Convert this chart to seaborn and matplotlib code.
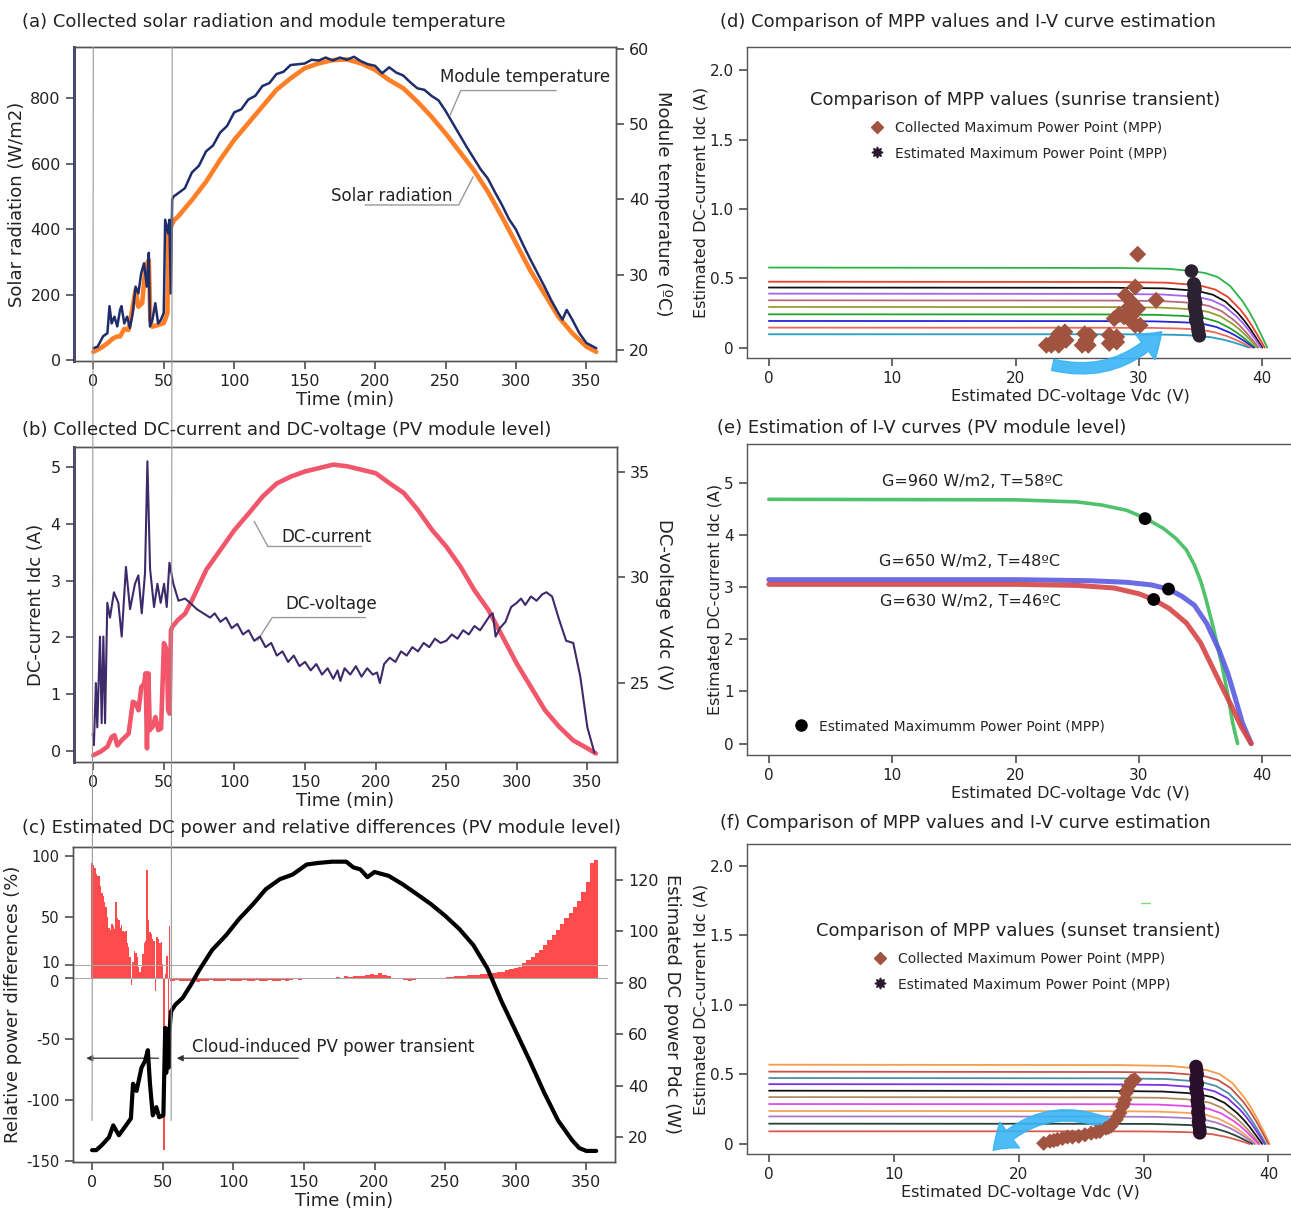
import matplotlib
matplotlib.use("Agg")
import matplotlib.pyplot as plt
from matplotlib.patches import FancyArrowPatch, ConnectionPatch
from matplotlib.lines import Line2D
from matplotlib.transforms import ScaledTranslation
import seaborn as sns

# ---------------- (a) solar radiation and module temperature ----------------
rad_time = [0, 5, 10, 14, 17, 19, 22, 25, 27.6, 30, 32, 34.7, 37, 39.4, 40.5, 41.8, 46, 50, 52.6, 53.5,
            54.3, 55, 57.4, 60, 70, 80, 90, 100, 110, 120, 130, 140, 150, 160, 170, 180, 190, 200, 210, 220,
            230, 240, 250, 260, 270, 280, 290, 300, 310, 320, 330, 340, 350, 357]
rad_wm2 = [25, 36, 51, 66, 72, 72, 95, 92, 153, 214, 163, 174, 285, 306, 122, 102, 107, 113, 143, 387,
           230, 408, 428, 438, 489, 545, 612, 673, 724, 775, 826, 861, 892, 907, 917, 919, 907, 887, 856, 831,
           790, 744, 693, 637, 581, 515, 438, 357, 275, 204, 133, 82, 41, 25]
temp_time = [0, 3, 7, 10, 11.5, 13, 15, 17, 19, 20, 22, 24, 26, 28, 30, 32, 34, 36, 38, 39.4,
             40.2, 42, 44, 46, 48, 50, 51, 53, 54, 55, 56, 57, 60, 65, 70, 75, 80, 85, 90, 95,
             100, 105, 110, 115, 120, 125, 130, 135, 140, 145, 150, 155, 160, 165, 170, 175, 180, 185, 190, 195,
             200, 205, 210, 215, 220, 225, 230, 235, 240, 245, 250, 255, 260, 265, 270, 275, 280, 285, 290, 295,
             300, 305, 310, 315, 320, 325, 330, 333, 336, 340, 345, 350, 357]
temp_c = [20.2, 20.4, 21.8, 22.2, 25.8, 23.5, 24.4, 23.1, 25.3, 25.8, 23.5, 24.4, 22.9, 24.9, 28.4, 27.5, 30.2, 31.5, 28.4, 32.9,
          23.1, 24.0, 26.2, 23.5, 24.0, 24.9, 37.3, 35.5, 37.3, 27.5, 40.0, 40.4, 40.8, 41.5, 43.6, 44.5, 46.4, 47.2, 48.9, 49.8,
          51.6, 52.0, 53.3, 53.8, 55.1, 55.5, 56.7, 57.0, 57.9, 58.0, 58.1, 58.6, 58.5, 58.9, 58.5, 58.9, 58.6, 59.0, 58.4, 58.0,
          57.8, 56.8, 57.6, 56.9, 56.5, 55.6, 54.8, 54.6, 53.8, 53.2, 51.8, 50.2, 48.6, 47.0, 45.5, 44.0, 42.8, 41.0, 39.3, 37.4,
          36.0, 34.0, 32.1, 30.3, 28.5, 26.6, 24.9, 24.0, 25.3, 24.0, 22.2, 20.9, 20.2]

# ---------------- (b) DC current and DC voltage ----------------
cur_time = [0, 5, 10, 13, 15, 17, 20, 25, 28, 30, 32, 34, 36, 37, 38, 39, 40, 42, 44, 46,
            48, 50, 52, 53, 54, 55, 56, 60, 65, 70, 80, 90, 100, 110, 120, 130, 140, 150, 160, 170,
            180, 190, 200, 210, 220, 230, 240, 250, 260, 270, 280, 290, 300, 310, 320, 330, 340, 350, 356]
cur_a = [-0.07, -0.01, 0.08, 0.25, 0.28, 0.1, 0.19, 0.31, 0.87, 0.84, 0.72, 1.13, 1.19, 1.37, 0.05, 1.37, 0.37, 0.43, 0.6, 0.37,
         0.4, 1.9, 1.78, 0.72, 0.66, 2.13, 2.19, 2.31, 2.42, 2.66, 3.19, 3.54, 3.89, 4.18, 4.48, 4.71, 4.83, 4.92, 4.98, 5.04,
         5.01, 4.95, 4.89, 4.71, 4.54, 4.24, 3.89, 3.6, 3.25, 2.83, 2.48, 2.01, 1.54, 1.13, 0.72, 0.43, 0.19, 0.05, -0.04]
volt_time = [-0.5, 0.4, 1.8, 2.8, 4.7, 5.9, 7.1, 8.3, 9.9, 11.8, 14.6, 17.7, 20.1, 23.1, 26, 29.5, 31.9, 34.3, 36.6, 38.3,
             40.2, 43, 45.4, 47.7, 50.1, 52, 53.9, 56.7, 60.3, 65, 68.5, 73.3, 78, 82.7, 86, 90, 94, 98, 102, 106,
             110, 114, 118, 122, 126, 130, 134, 138, 142, 146, 150, 154, 158, 162, 166, 170, 173, 175, 178, 182,
             186, 190, 194, 198, 201, 203, 206, 210, 214, 218, 222, 226, 230, 234, 238, 242, 246, 250, 254, 258,
             262, 266, 270, 274, 278, 281, 283, 285, 288, 292, 296, 300, 303, 306, 310, 314, 318, 321, 325, 330,
             335, 340, 345, 350, 355]
volt_v = [22.6, 22.06, 25.0, 22.9, 27.2, 23.1, 27.2, 23.1, 28.8, 28.1, 29.3, 28.8, 27.2, 30.5, 28.5, 29.7, 30.1, 28.3, 30.2, 35.5,
          30.4, 28.6, 29.7, 28.8, 29.7, 28.6, 30.7, 29.7, 28.9, 29.0, 28.8, 28.5, 28.3, 28.1, 28.3, 27.9, 28.1, 27.6, 27.8, 27.3,
          27.5, 27.0, 27.2, 26.7, 26.9, 26.3, 26.5, 26.0, 26.3, 25.8, 26.0, 25.6, 25.9, 25.4, 25.7, 25.2, 25.6, 25.1, 25.7, 25.4,
          25.8, 25.3, 25.7, 25.4, 25.5, 25.0, 25.9, 26.2, 26.0, 26.5, 26.3, 26.7, 26.5, 26.9, 26.7, 27.1, 26.9, 27.0, 27.3, 27.1,
          27.5, 27.3, 27.7, 27.5, 27.9, 28.2, 28.3, 27.2, 27.6, 27.9, 28.6, 28.8, 29.0, 28.7, 29.1, 28.9, 29.2, 29.3, 29.1, 28.0,
          27.0, 26.9, 25.3, 22.9, 21.7]

# ---------------- (c) DC power and relative differences ----------------
pow_time = [0, 3, 7, 12, 15, 19, 24, 27.5, 29, 31.5, 35, 37.5, 39.5, 41, 43, 45.5, 47.5, 50.5, 51.8, 52.5,
            53.5, 54.2, 54.8, 55.9, 59, 64, 70, 76, 85, 95, 104, 114, 123, 133, 142, 152, 160, 170, 180, 185,
            190, 195, 200, 210, 220, 230, 240, 250, 260, 270, 280, 290, 300, 310, 320, 330, 340, 345, 350, 357]
pow_w = [15, 15, 17, 20, 24.6, 20.8, 24.6, 27.3, 40.8, 38, 47, 49.6, 53.8, 40.8, 28.5, 31.7, 27.8, 28.5, 62.5, 45,
         62, 47, 61, 68.8, 71.5, 74, 79.2, 85, 92.7, 98.5, 104.7, 110.5, 116.3, 120.2, 122, 125.9, 126.5, 127, 127, 124.8,
         124, 121, 123, 121.5, 118.2, 114.4, 110.5, 106, 100.9, 94.6, 85.5, 72.7, 61.2, 49.6, 37.5, 26.5, 18.8, 15.8, 14.7, 14.7]
# one value per minute, t = 0..56
diff_sunrise = [94, 92, 90, 85, 83.5, 83, 75, 69, 67, 62, 58, 50, 41, 39, 44, 42, 40, 62, 49, 47,
                41, 43, 38, 37, 38, 28, 25, 17, -6, 13, 22, 20, 17, 9, 4.5, 9, 19.5, 28, 30, 88,
                47, 37, 36, 32, 30, -11, 33, 32, 28, 29, 11, -141, 3, 18, -40, 42, -3]
# one value every 3 minutes, t = 57..357
diff_day = [-3, -2, -3, -2.5, -3, -2, -3.5, -2.5, -3, -2, -3, -2.5, -3, -2, -3,
            -2.5, -3, -2, -3, -2.5, -2, -3, -2.5, -2, -2.5, -3, -2, -2.5, -2, -1.5, -2, -1.5,
            -1, -1.5, -1, -0.5, -1, 0, -0.5, 0.5, 0, 1, 0.5, 1, 1.5, 1, 2, 3, 2,
            3.5, 2, 1, 0, -1, -1.5, -2, -2.5, -2, -1.5, -1, -1, -0.5, 0, -0.5, 0, 0.5,
            0.5, 1, 1, 1.5, 2, 2, 2.5, 3, 3, 3.5, 4, 4.5, 5, 6, 7, 8, 9,
            12, 14.5, 17, 20, 23, 27, 31, 35, 39, 44, 49, 53, 58, 63, 70, 78, 94, 96]
sunrise_min = list(range(0, 57))
day_min = list(range(57, 358, 3))

# ---------------- (d) sunrise I-V curves ----------------
rise_iv_v = [
    [0, 28.4, 32.4, 34.4, 35.4, 36.4, 37.4, 38.4, 38.9, 39.4, 39.9, 40.4],
    [0, 28.2, 32.2, 34.2, 35.2, 36.2, 37.2, 38.2, 38.7, 39.2, 39.7, 40.2],
    [0, 28.0, 32.0, 34.0, 35.0, 36.0, 37.0, 38.0, 38.5, 39.0, 39.5, 40.0],
    [0, 27.9, 31.9, 33.9, 34.9, 35.9, 36.9, 37.9, 38.4, 38.9, 39.4, 39.9],
    [0, 27.7, 31.7, 33.7, 34.7, 35.7, 36.7, 37.7, 38.2, 38.7, 39.2, 39.7],
    [0, 27.6, 31.6, 33.6, 34.6, 35.6, 36.6, 37.6, 38.1, 38.6, 39.1, 39.6],
    [0, 27.4, 31.4, 33.4, 34.4, 35.4, 36.4, 37.4, 37.9, 38.4, 38.9, 39.4],
    [0, 27.3, 31.3, 33.3, 34.3, 35.3, 36.3, 37.3, 37.8, 38.3, 38.8, 39.3],
    [0, 27.1, 31.1, 33.1, 34.1, 35.1, 36.1, 37.1, 37.6, 38.1, 38.6, 39.1],
    [0, 26.9, 30.9, 32.9, 33.9, 34.9, 35.9, 36.9, 37.4, 37.9, 38.4, 38.9],
]
rise_iv_i = [
    [.577, .574, .568, .551, .537, .508, .444, .335, .265, .185, .095, 0],
    [.475, .473, .468, .454, .442, .418, .366, .276, .219, .152, .078, 0],
    [.433, .431, .427, .414, .403, .381, .333, .251, .199, .139, .071, 0],
    [.389, .387, .383, .371, .362, .342, .300, .226, .179, .124, .064, 0],
    [.341, .339, .336, .326, .317, .300, .263, .198, .157, .109, .056, 0],
    [.293, .292, .289, .280, .272, .258, .226, .170, .135, .094, .048, 0],
    [.240, .239, .236, .229, .223, .211, .185, .139, .110, .077, .040, 0],
    [.192, .191, .189, .183, .179, .169, .148, .111, .088, .061, .032, 0],
    [.144, .143, .142, .138, .134, .127, .111, .084, .066, .046, .024, 0],
    [.096, .096, .095, .092, .089, .084, .074, .056, .044, .031, .016, 0],
]
rise_iv_colors = ["#2db34a", "#e8402a", "#111111", "#a463f2", "#b86a7c",
                  "#9a9a3a", "#22a22a", "#2626d9", "#e86a5a", "#2a9cc0"]
rise_col_v = [22.5, 22.9, 23.1, 23.5, 23.5, 23.9, 24.0, 24.1, 25.4, 25.6, 25.7, 25.9, 26.0, 27.6, 27.6, 28.0,
              28.2, 28.2, 28.4, 28.8, 28.9, 29.2, 29.3, 29.4, 29.4, 29.7, 29.7, 29.9, 29.9, 30.1, 31.4]
rise_col_i = [0.017, 0.017, 0.05, 0.017, 0.1, 0.065, 0.113, 0.053, 0.017, 0.1, 0.053, 0.017, 0.089, 0.03, 0.09, 0.209,
              0.077, 0.04, 0.24, 0.221, 0.377, 0.293, 0.197, 0.329, 0.23, 0.437, 0.161, 0.673, 0.281, 0.161, 0.341]
rise_est_v = [34.26, 34.45, 34.5, 34.5, 34.55, 34.5, 34.45, 34.5, 34.55, 34.6, 34.5,
              34.55, 34.6, 34.65, 34.7, 34.6, 34.7, 34.75, 34.8, 34.8, 34.85, 34.9]
rise_est_i = [0.552, 0.46, 0.45, 0.43, 0.42, 0.40, 0.38, 0.36, 0.34, 0.32, 0.30,
              0.28, 0.26, 0.24, 0.22, 0.20, 0.18, 0.16, 0.14, 0.12, 0.10, 0.085]

# ---------------- (e) I-V curves at three conditions ----------------
iv_e_labels = ["G=960 W/m2, T=58ºC", "G=650 W/m2, T=48ºC", "G=630 W/m2, T=46ºC"]
iv_e_label_v = [16.5, 16.3, 16.3]
iv_e_label_i = [5.02, 3.49, 2.72]
iv_e_v = [
    [0, 20, 25, 27, 29, 30.5, 32, 33, 33.85, 34.5, 35, 35.4, 36, 36.7, 37.2, 37.6, 38.0],
    [0, 20, 26, 29, 31, 32.4, 33.5, 34.5, 35.5, 36.5, 37.2, 37.7, 38.4, 39.1],
    [0, 20, 25, 28, 30, 31.2, 32.5, 33.85, 35, 35.8, 36.6, 37.4, 38.3, 39.1],
]
iv_e_i = [
    [4.68, 4.67, 4.63, 4.57, 4.47, 4.32, 4.12, 3.93, 3.71, 3.42, 3.12, 2.80, 2.25, 1.54, 0.95, 0.40, 0],
    [3.14, 3.14, 3.12, 3.09, 3.04, 2.96, 2.82, 2.65, 2.3, 1.79, 1.35, 0.96, 0.39, 0],
    [3.05, 3.05, 3.03, 2.98, 2.87, 2.76, 2.58, 2.31, 1.93, 1.54, 1.15, 0.77, 0.32, 0],
]
iv_e_colors = ["#3dbb5c", "#5b5be0", "#d64545"]
mpp_e_v = [30.5, 32.4, 31.2]
mpp_e_i = [4.31, 2.96, 2.76]

# ---------------- (f) sunset I-V curves ----------------
set_iv_v = [
    [0, 28.1, 32.1, 34.1, 35.1, 36.1, 37.1, 38.1, 38.6, 39.1, 39.6, 40.1],
    [0, 28.0, 32.0, 34.0, 35.0, 36.0, 37.0, 38.0, 38.5, 39.0, 39.5, 40.0],
    [0, 27.8, 31.8, 33.8, 34.8, 35.8, 36.8, 37.8, 38.3, 38.8, 39.3, 39.8],
    [0, 27.7, 31.7, 33.7, 34.7, 35.7, 36.7, 37.7, 38.2, 38.7, 39.2, 39.7],
    [0, 27.5, 31.5, 33.5, 34.5, 35.5, 36.5, 37.5, 38.0, 38.5, 39.0, 39.5],
    [0, 27.3, 31.3, 33.3, 34.3, 35.3, 36.3, 37.3, 37.8, 38.3, 38.8, 39.3],
    [0, 27.2, 31.2, 33.2, 34.2, 35.2, 36.2, 37.2, 37.7, 38.2, 38.7, 39.2],
    [0, 27.0, 31.0, 33.0, 34.0, 35.0, 36.0, 37.0, 37.5, 38.0, 38.5, 39.0],
    [0, 26.9, 30.9, 32.9, 33.9, 34.9, 35.9, 36.9, 37.4, 37.9, 38.4, 38.9],
    [0, 26.7, 30.7, 32.7, 33.7, 34.7, 35.7, 36.7, 37.2, 37.7, 38.2, 38.7],
    [0, 26.5, 30.5, 32.5, 33.5, 34.5, 35.5, 36.5, 37.0, 37.5, 38.0, 38.5],
]
set_iv_i = [
    [.570, .567, .561, .544, .530, .502, .439, .331, .262, .182, .094, 0],
    [.520, .517, .512, .497, .484, .458, .400, .302, .239, .166, .086, 0],
    [.474, .472, .467, .453, .441, .417, .365, .275, .218, .152, .078, 0],
    [.430, .428, .424, .411, .400, .378, .331, .249, .198, .138, .071, 0],
    [.383, .381, .377, .366, .356, .337, .295, .222, .176, .123, .063, 0],
    [.337, .335, .332, .322, .313, .297, .259, .195, .155, .108, .056, 0],
    [.287, .286, .283, .274, .267, .253, .221, .166, .132, .092, .047, 0],
    [.237, .236, .233, .226, .220, .209, .182, .137, .109, .076, .039, 0],
    [.198, .197, .195, .189, .184, .174, .152, .115, .091, .063, .033, 0],
    [.146, .145, .144, .139, .136, .128, .112, .085, .067, .047, .024, 0],
    [.091, .091, .090, .087, .085, .080, .070, .053, .042, .029, .015, 0],
]
set_iv_colors = ["#f39c4a", "#c9504a", "#4c8fa3", "#7a33e6", "#151515", "#b38b5d",
                 "#e24ae8", "#f5a35a", "#a879c9", "#24443a", "#d85a50"]
set_col_v = [22.0, 22.5, 22.8, 23.1, 23.5, 23.9, 24.3, 24.8, 25.3, 25.8, 26.2, 26.5, 27.0, 27.2, 27.4,
             27.8, 27.95, 28.1, 28.3, 28.4, 28.5, 28.6, 28.7, 28.8, 29.0, 29.15, 29.3]
set_col_i = [0.005, 0.02, 0.025, 0.032, 0.04, 0.05, 0.05, 0.055, 0.066, 0.078, 0.085, 0.09, 0.114, 0.12, 0.13,
             0.175, 0.2, 0.223, 0.27, 0.29, 0.318, 0.366, 0.39, 0.414, 0.45, 0.455, 0.462]
set_est_v = [34.2, 34.25, 34.3, 34.2, 34.25, 34.3, 34.2, 34.25, 34.3, 34.35,
             34.3, 34.35, 34.4, 34.35, 34.4, 34.45, 34.4, 34.45, 34.5, 34.5]
set_est_i = [0.557, 0.53, 0.5, 0.47, 0.45, 0.43, 0.4, 0.38, 0.36, 0.33,
             0.31, 0.28, 0.26, 0.23, 0.21, 0.18, 0.16, 0.13, 0.1, 0.08]

time_ticks = [0, 50, 100, 150, 200, 250, 300, 350]

# ---------------------------------------------------------------------------
sns.set_theme(style="ticks")
plt.rcParams["font.family"] = ["DejaVu Sans"]
plt.rcParams["axes.unicode_minus"] = False
plt.rcParams["axes.edgecolor"] = "#555555"
plt.rcParams["axes.linewidth"] = 1.0
plt.rcParams["xtick.color"] = "#555555"
plt.rcParams["ytick.color"] = "#555555"
plt.rcParams["xtick.labelcolor"] = "#222222"
plt.rcParams["ytick.labelcolor"] = "#222222"
plt.rcParams["xtick.labelsize"] = 11.5
plt.rcParams["ytick.labelsize"] = 11.5
plt.rcParams["axes.labelsize"] = 13
plt.rcParams["axes.labelcolor"] = "#222222"

W, H = 1291, 1213
fig = plt.figure(figsize=(W / 100, H / 100), dpi=100)


def px_axes(l, t, r, b):
    return fig.add_axes([l / W, 1 - b / H, (r - l) / W, (b - t) / H])


def line(ax, x, y, **kw):
    sns.lineplot(x=x, y=y, ax=ax, estimator=None, sort=False, **kw)


def title(x, y, s):
    fig.text(x / W, 1 - y / H, s, fontsize=13, va="center", ha="left", color="#222222")


# ---- (a)
ax_a = px_axes(74, 47, 616, 361)
line(ax_a, rad_time, rad_wm2, color="#ff7f27", lw=3.3)
ax_a.set_xlim(-13.7, 371)
ax_a.set_ylim(-3, 957)
ax_a.set_yticks([0, 200, 400, 600, 800])
ax_a.set_xticks(time_ticks)
ax_a.set_xlabel("Time (min)", labelpad=1)
ax_a.set_ylabel("Solar radiation (W/m2)", labelpad=3)
ax_a.spines["left"].set_color("#1f2d6b")
ax_a.spines["left"].set_linewidth(2)
ax_a2 = ax_a.twinx()
line(ax_a2, temp_time, temp_c, color="#1f2d6b", lw=1.8)
ax_a2.set_ylim(18.5, 60.3)
ax_a2.set_yticks([20, 30, 40, 50, 60])
ax_a2.set_ylabel("Module temperature (ºC)", rotation=270, labelpad=16)
ax_a2.plot([253.3, 260.8, 328.5], [51.25, 54.5, 54.5], color="#999999", lw=1)
ax_a2.text(306.5, 56.3, "Module temperature", ha="center", va="center", fontsize=12, color="#222222")
ax_a.plot([269.6, 259.3, 192.9], [560, 474, 474], color="#999999", lw=1)
ax_a.text(212, 501, "Solar radiation", ha="center", va="center", fontsize=12, color="#222222")
title(22, 22, "(a) Collected solar radiation and module temperature")

# ---- (b)
ax_b = px_axes(74, 447, 617, 762)
line(ax_b, cur_time, cur_a, color="#f2566a", lw=3.3)
ax_b.set_xlim(-13.7, 371)
ax_b.set_ylim(-0.19, 5.35)
ax_b.set_yticks([0, 1, 2, 3, 4, 5])
ax_b.set_xticks(time_ticks)
ax_b.set_xlabel("Time (min)", labelpad=1)
ax_b.set_ylabel("DC-current Idc (A)")
ax_b.spines["left"].set_color("#3d2a6b")
ax_b.spines["left"].set_linewidth(2)
ax_b2 = ax_b.twinx()
line(ax_b2, volt_time, volt_v, color="#3d2a6b", lw=1.5)
ax_b2.set_ylim(21.26, 36.18)
ax_b2.set_yticks([25, 30, 35])
ax_b2.set_ylabel("DC-voltage Vdc (V)", rotation=270, labelpad=16)
ax_b.plot([114, 123.7, 190.1], [4.04, 3.6, 3.6], color="#999999", lw=1)
ax_b.text(165.5, 3.77, "DC-current", ha="center", va="center", fontsize=12, color="#222222")
ax_b.plot([116.4, 126.7, 192.9], [1.95, 2.35, 2.35], color="#999999", lw=1)
ax_b.text(168.7, 2.59, "DC-voltage", ha="center", va="center", fontsize=12, color="#222222")
title(22, 430, "(b) Collected DC-current and DC-voltage (PV module level)")

# ---- (c)
ax_c = px_axes(73, 847, 615, 1162)
ax_c.bar(sunrise_min, diff_sunrise, width=1.0, color="#ff2b2b", alpha=0.85, lw=0)
ax_c.bar(day_min, diff_day, width=3.0, color="#ff2b2b", alpha=0.85, lw=0)
ax_c.axhline(10, xmax=0.985, color="#aaaaaa", lw=0.8)
ax_c.axhline(0, xmax=0.985, color="#aaaaaa", lw=0.8)
ax_c.set_xlim(-13.5, 370.3)
ax_c.set_ylim(-151, 107)
ax_c.set_yticks([-150, -100, -50, 0, 10, 50, 100], labels=["-150", "-100", "-50", "0", "10", "50", "100"])
ax_c.tick_params(axis="y", labelsize=10.5)
# nudge the two crowded labels apart
ylabs = ax_c.get_yticklabels()
ylabs[3].set_transform(ylabs[3].get_transform() + ScaledTranslation(0, -2.2 / 72, fig.dpi_scale_trans))
ylabs[4].set_transform(ylabs[4].get_transform() + ScaledTranslation(0, 2.2 / 72, fig.dpi_scale_trans))
ax_c.set_xticks(time_ticks)
ax_c.set_xlabel("Time (min)", labelpad=1)
ax_c.set_ylabel("Relative power differences (%)", labelpad=3)
ax_c2 = ax_c.twinx()
line(ax_c2, pow_time, pow_w, color="black", lw=3.0)
ax_c2.set_ylim(10.4, 132.7)
ax_c2.set_yticks([20, 40, 60, 80, 100, 120])
ax_c2.set_ylabel("Estimated DC power Pdc (W)", rotation=270, labelpad=16)
arr = dict(arrowstyle="-|>", color="#333333", lw=0.9, mutation_scale=9)
ax_c.annotate("", xy=(-6, -66), xytext=(49, -66), arrowprops=arr)
ax_c.annotate("", xy=(58, -66), xytext=(148, -66), arrowprops=arr)
ax_c.text(170.5, -57, "Cloud-induced PV power transient", ha="center", va="center",
          fontsize=12, color="#222222")
title(22, 828, "(c) Estimated DC power and relative differences (PV module level)")

# vertical guide lines through (a), (b), (c)
for t in (0, 56):
    con = ConnectionPatch(xyA=(t, 957), coordsA=ax_a.transData, xyB=(t, -117), coordsB=ax_c.transData,
                          color="#999999", lw=0.8)
    fig.add_artist(con)


def iv_axes(t, b, r, xmax):
    ax = px_axes(747, t, r, b)
    ax.set_xticks([0, 10, 20, 30, 40])
    ax.set_xlim(-1.77, xmax)
    ax.tick_params(labelsize=11)
    ax.set_xlabel("Estimated DC-voltage Vdc (V)", fontsize=11.5, labelpad=2)
    ax.set_ylabel("Estimated DC-current Idc (A)", fontsize=11.5, labelpad=1)
    return ax


def mpp_legend(ax, ttl, x_mid, y_top):
    handles = [Line2D([], [], ls="none", marker="D", ms=6.5, color="#a0533f", label="Collected Maximum Power Point (MPP)"),
               Line2D([], [], ls="none", marker=(8, 1, 0), ms=8, color="#2b1a2e", label="Estimated Maximum Power Point (MPP)")]
    leg = ax.legend(handles=handles, title=ttl, loc="upper center", bbox_to_anchor=(x_mid, y_top),
                    frameon=False, fontsize=10, title_fontsize=13, handletextpad=0.3, labelspacing=0.85)
    leg.get_title().set_color("#222222")


# ---- (d)
ax_d = iv_axes(47, 358, 1393, 50.6)
for v, i, c in zip(rise_iv_v, rise_iv_i, rise_iv_colors):
    line(ax_d, v, i, color=c, lw=1.3)
sns.scatterplot(x=rise_col_v, y=rise_col_i, ax=ax_d, marker="D", s=75, color="#a0533f", edgecolor="none", zorder=5)
sns.scatterplot(x=rise_est_v, y=rise_est_i, ax=ax_d, marker="o", s=95, color="#2b2130", edgecolor="none", zorder=6)
ax_d.set_ylim(-0.075, 2.167)
ax_d.set_yticks([0, 0.5, 1.0, 1.5, 2.0], labels=["0", "0.5", "1.0", "1.5", "2.0"])
ax_d.add_patch(FancyArrowPatch((22.8, -0.12), (32.0, 0.13), connectionstyle="arc3,rad=0.3",
                               arrowstyle="simple,head_width=1.3,head_length=0.9,tail_width=0.45",
                               mutation_scale=18, color="#3ab4f5", alpha=0.9, clip_on=False, zorder=4))
mpp_legend(ax_d, "Comparison of MPP values (sunrise transient)", 0.415, 0.9)
title(720, 22, "(d) Comparison of MPP values and I-V curve estimation")

# ---- (e)
ax_e = iv_axes(444, 755, 1393, 50.6)
lws = [2.6, 3.6, 3.6]
for v, i, c, w in zip(iv_e_v, iv_e_i, iv_e_colors, lws):
    line(ax_e, v, i, color=c, lw=w, alpha=0.9)
sns.scatterplot(x=mpp_e_v, y=mpp_e_i, ax=ax_e, marker="o", s=85, color="black", edgecolor="none", zorder=5)
ax_e.set_ylim(-0.22, 5.74)
ax_e.set_yticks([0, 1, 2, 3, 4, 5])
for lab, x, y in zip(iv_e_labels, iv_e_label_v, iv_e_label_i):
    ax_e.text(x, y, lab, ha="center", va="center", fontsize=11.5, color="#222222")
ax_e.legend(handles=[Line2D([], [], ls="none", marker="o", ms=8, color="black",
                            label="Estimated Maximumm Power Point (MPP)")],
            loc="lower left", bbox_to_anchor=(0.042, 0.03), frameon=False, fontsize=10, handletextpad=0.3)
title(717, 428, "(e) Estimation of I-V curves (PV module level)")

# ---- (f)
ax_f = iv_axes(844, 1154, 1293, 41.97)
for v, i, c in zip(set_iv_v, set_iv_i, set_iv_colors):
    line(ax_f, v, i, color=c, lw=1.3)
sns.scatterplot(x=set_col_v, y=set_col_i, ax=ax_f, marker="D", s=60, color="#a0533f", edgecolor="none", zorder=5)
sns.scatterplot(x=set_est_v, y=set_est_i, ax=ax_f, marker="o", s=95, color="#2a0f2a", edgecolor="none", zorder=6)
ax_f.plot([29.8, 30.5], [1.73, 1.73], color="#7be07b", lw=1)
ax_f.set_ylim(-0.072, 2.156)
ax_f.set_yticks([0, 0.5, 1.0, 1.5, 2.0], labels=["0", "0.5", "1.0", "1.5", "2.0"])
ax_f.add_patch(FancyArrowPatch((27.3, 0.14), (17.8, -0.06), connectionstyle="arc3,rad=0.35",
                               arrowstyle="simple,head_width=1.3,head_length=0.9,tail_width=0.45",
                               mutation_scale=18, color="#3ab4f5", alpha=0.9, clip_on=False, zorder=4))
mpp_legend(ax_f, "Comparison of MPP values (sunset transient)", 0.496, 0.79)
title(720, 823, "(f) Comparison of MPP values and I-V curve estimation")

fig.savefig("out.png", dpi=100)
